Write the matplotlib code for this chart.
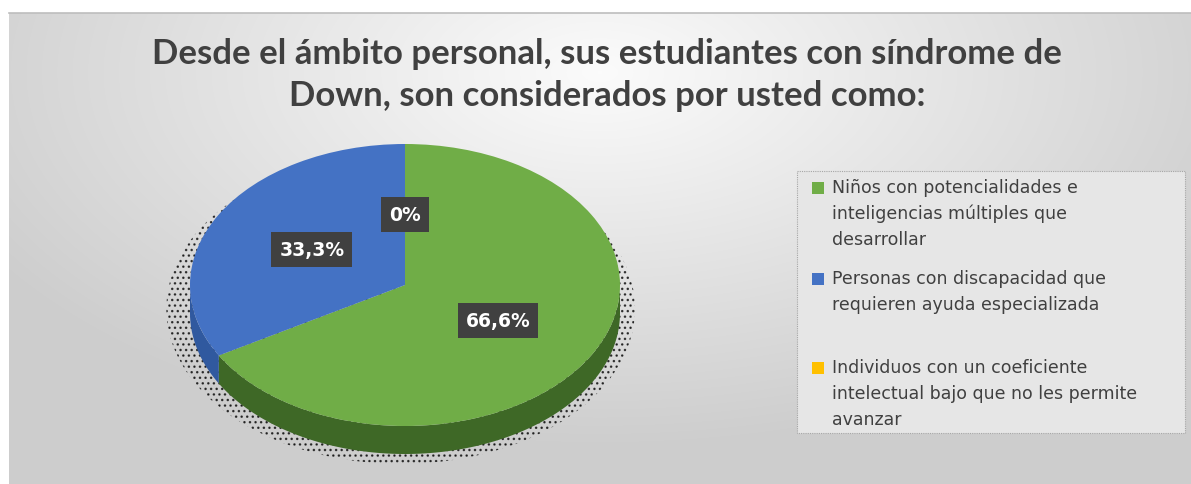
import numpy as np
import matplotlib
matplotlib.use("Agg")
import matplotlib.pyplot as plt
from matplotlib.patches import Polygon, Rectangle, Ellipse

# ---- data ----
title = "Desde el ámbito personal, sus estudiantes con síndrome de\nDown, son considerados por usted como:"
categories = [
    "Niños con potencialidades e\ninteligencias múltiples que\ndesarrollar",
    "Personas con discapacidad que\nrequieren ayuda especializada",
    "Individuos con un coeficiente\nintelectual bajo que no les permite\navanzar",
]
values = [66.6, 33.3, 0.0]
value_labels = ["66,6%", "33,3%", "0%"]
colors = ["#70ad47", "#4472c4", "#ffc000"]
side_colors = ["#3e6826", "#30599f", "#b38600"]

W, H = 1191, 485
fig = plt.figure(figsize=(W / 100, H / 100), dpi=100)
fig.patch.set_facecolor("white")

# ---- base axes (pixel coords) ----
base = fig.add_axes([0, 0, 1, 1])
base.set_xlim(0, W)
base.set_ylim(H, 0)
base.axis("off")

# gradient panel
px0, py0 = 9, 14
gx = np.linspace(-1, 1, 600)
gy = np.linspace(-1, 1, 300)
GX, GY = np.meshgrid(gx, gy)
dist = np.sqrt((GX * 1.0) ** 2 + ((GY + 0.75) * 0.75) ** 2)
val = 0.985 - 0.18 * np.clip(dist, 0, 1.2) / 1.2
img = np.dstack([val, val, val])
base.imshow(img, extent=[px0, W, H, py0], aspect="auto", zorder=0, interpolation="bilinear")
base.plot([px0, W], [py0, py0], color="#bdbdbd", lw=1.2, zorder=1)

# title
base.text(607, 75, title, ha="center", va="center", fontsize=25,
          fontweight="bold", color="#404040", linespacing=1.36,
          family=["Lato", "DejaVu Sans"], zorder=3)

# legend box
base.add_patch(Rectangle((797, 172), 388, 262, facecolor="#e6e6e6",
                         edgecolor="#a6a6a6", lw=0.8, ls=(0, (1, 1)), zorder=1))
entry_tops = [188, 279, 368]
line_h = 26
for cat, col, y0 in zip(categories, colors, entry_tops):
    base.scatter([818], [y0 + 1], marker="s", s=70, color=col, zorder=3, linewidths=0)
    for i, line in enumerate(cat.split("\n")):
        base.text(832, y0 + i * line_h, line, ha="left", va="center",
                  fontsize=12.5, color="#404040", family=["DejaVu Sans"], zorder=3)

# ---- pie axes: ellipse with rx=215px, ry=141px, centre (405,286) ----
cx, cy, rx, ry = 405, 286, 215, 141
mx, my = 1.4, 1.45
ax = fig.add_axes([(cx - mx * rx) / W, (H - (cy + my * ry)) / H,
                   2 * mx * rx / W, 2 * my * ry / H])
ax.patch.set_alpha(0)
depth = 28 / ry

# dotted shadow
shadow = Ellipse((-0.02, -depth * 0.85), 2.18, 2.2, facecolor="none",
                 edgecolor=(0, 0, 0, 0.7), lw=0, hatch="...", zorder=1)
ax.add_patch(shadow)

wedges, texts = ax.pie(values, labels=value_labels, colors=colors, startangle=90,
                       counterclock=False, labeldistance=0.5,
                       wedgeprops=dict(linewidth=0, zorder=3),
                       textprops=dict(color="white", fontsize=13.5, fontweight="bold",
                                      family=["DejaVu Sans"]))
ax.set_aspect("auto")
ax.set_xlim(-mx, mx)
ax.set_ylim(-my, my)

# sides of the 3D pie
for w, sc in zip(wedges, side_colors):
    t1, t2 = w.theta1, w.theta2
    for k in (-720, -360, 0, 360):
        a, b = max(t1 + k, -180), min(t2 + k, 0)
        if b - a <= 0.01:
            continue
        th = np.radians(np.linspace(a, b, 120))
        top = np.column_stack([np.cos(th), np.sin(th)])
        bot = np.column_stack([np.cos(th[::-1]), np.sin(th[::-1]) - depth])
        ax.add_patch(Polygon(np.vstack([top, bot]), closed=True, facecolor=sc,
                             edgecolor="none", zorder=2))

for t in texts:
    t.set_ha("center")
    t.set_va("center")
    t.set_zorder(5)
    t.set_bbox(dict(boxstyle="square,pad=0.42", facecolor="#404040", edgecolor="none"))

fig.savefig("out.png", dpi=100)
